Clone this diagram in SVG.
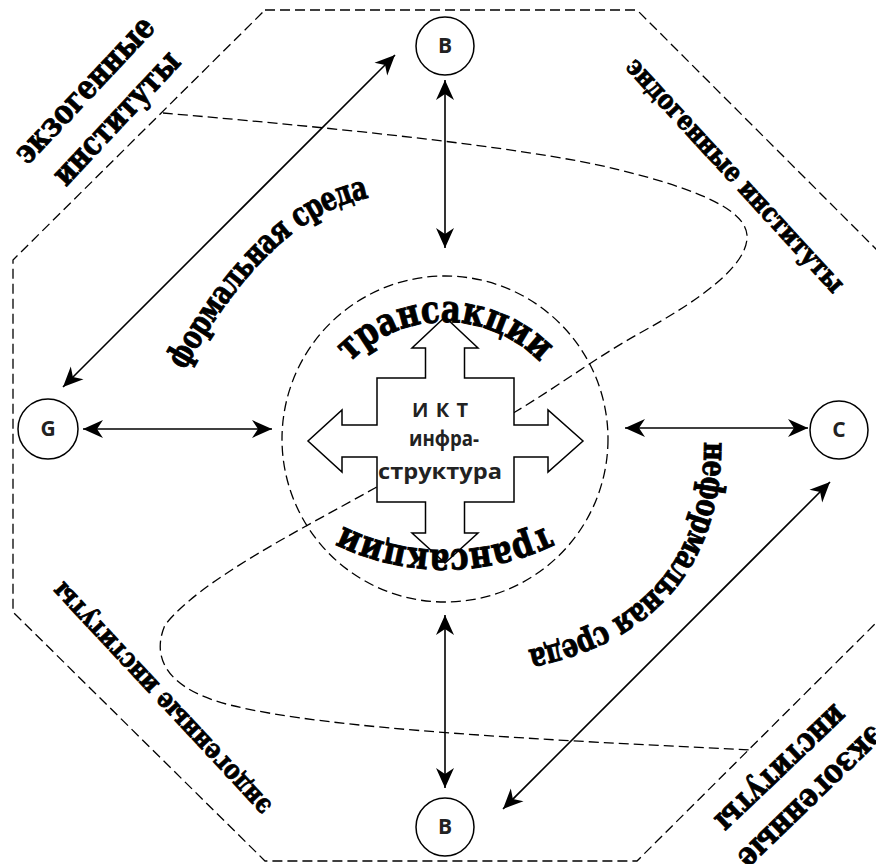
<svg xmlns="http://www.w3.org/2000/svg" width="876" height="864" viewBox="0 0 876 864">
<defs>
<style>
.dash{fill:none;stroke:#000;stroke-width:1.3;stroke-dasharray:10 5}
.conn{fill:none;stroke:#000;stroke-width:1.6}
.node{fill:#fff;stroke:#000;stroke-width:1.5}
.lbl{font-family:"Open Sans","DejaVu Sans",sans-serif;font-weight:bold;font-size:21px;text-anchor:middle;fill:#222}
.ser{font-family:"DejaVu Serif Condensed","DejaVu Serif",serif;font-weight:bold;fill:#000;stroke:#000;stroke-width:0.9}
.mid{text-anchor:middle;dominant-baseline:middle}
.ict{font-family:"Open Sans","DejaVu Sans",sans-serif;font-weight:bold;text-anchor:middle;fill:#222}
</style>
<marker id="ah" viewBox="0 0 20 20" refX="20" refY="10" markerWidth="20" markerHeight="20" markerUnits="userSpaceOnUse" orient="auto-start-reverse">
<path d="M0,1 L20,10 L0,19 L6,10 z" fill="#000"/>
</marker>
<path id="pTop" d="M313,454 A132,132 0 0 1 577,454"/>
<path id="pBot" d="M677,318 A232,232 0 0 1 213,318"/>
<path id="pForm" d="M177,366 Q264,208 367,189"/>
<path id="pNeform" d="M713,442 C714,560 650,640 518,661"/>
</defs>
<rect width="876" height="864" fill="#fff"/>

<g id="background">
<polygon class="dash" points="265,10 637,10 887,260 887,612 637,861 265,861 13,612 13,260"/>
<path class="dash" d="M163,113 C300,125 520,145 620,170 C700,190 745,210 747,235 C749,265 700,300 640,333 C600,355 560,385 515,412 L375,488 C300,530 200,580 165,625 C150,660 170,690 230,705 C330,730 550,740 750,750"/>
<circle class="dash" cx="445" cy="439" r="163"/>
</g>

<g id="ict">
<polygon fill="#fff" stroke="#000" stroke-width="1.5" points="445,317 478,348 464.5,348 464.5,378 514,378 514,425 548,425 548,410 583,441 548,472 548,457 514,457 514,502 464.5,502 464.5,533 478,533 445,563 412,533 425.5,533 425.5,502 377,502 377,457 342,457 342,472 308,441 342,410 342,425 377,425 377,378 425.5,378 425.5,348 412,348"/>
<text class="ict" x="440" y="417" font-size="20" textLength="56" lengthAdjust="spacing">И К Т</text>
<text class="ict" x="444" y="446" font-size="21" textLength="70" lengthAdjust="spacingAndGlyphs">инфра-</text>
<text class="ict" x="440" y="479" font-size="21" textLength="124" lengthAdjust="spacingAndGlyphs">структура</text>
</g>

<g id="texts">
<text class="ser" font-size="38"><textPath href="#pTop" startOffset="50%" text-anchor="middle" textLength="212" lengthAdjust="spacingAndGlyphs">трансакции</textPath></text>
<text class="ser" font-size="38"><textPath href="#pBot" startOffset="50%" text-anchor="middle" textLength="212" lengthAdjust="spacingAndGlyphs">трансакции</textPath></text>
<text class="ser" font-size="33" dominant-baseline="middle"><textPath href="#pForm" textLength="268" lengthAdjust="spacingAndGlyphs">формальная среда</textPath></text>
<text class="ser" font-size="33" dominant-baseline="middle"><textPath href="#pNeform" textLength="313" lengthAdjust="spacingAndGlyphs">неформальная среда</textPath></text>
<text class="ser mid" font-size="33" transform="translate(85.5,91) rotate(-46.7)" textLength="188" lengthAdjust="spacingAndGlyphs">экзогенные</text>
<text class="ser mid" font-size="33" transform="translate(117.5,119) rotate(-46.9)" textLength="170" lengthAdjust="spacingAndGlyphs">институты</text>
<text class="ser mid" font-size="27" transform="translate(734.5,176) rotate(47.4)" textLength="308" lengthAdjust="spacingAndGlyphs">эндогенные институты</text>
<text class="ser mid" font-size="27" transform="translate(162.5,698) rotate(227)" textLength="307" lengthAdjust="spacingAndGlyphs">эндогенные институты</text>
<text class="ser mid" font-size="33" transform="translate(780,767.5) rotate(136.4)" textLength="168" lengthAdjust="spacingAndGlyphs">институты</text>
<text class="ser mid" font-size="33" transform="translate(810.5,796.5) rotate(136)" textLength="190" lengthAdjust="spacingAndGlyphs">экзогенные</text>
</g>

<g id="connectors">
<line class="conn" x1="445" y1="80" x2="445" y2="248" marker-start="url(#ah)" marker-end="url(#ah)"/>
<line class="conn" x1="445" y1="615" x2="445" y2="788" marker-start="url(#ah)" marker-end="url(#ah)"/>
<line class="conn" x1="83" y1="429" x2="272" y2="429" marker-start="url(#ah)" marker-end="url(#ah)"/>
<line class="conn" x1="625" y1="428" x2="808" y2="428" marker-start="url(#ah)" marker-end="url(#ah)"/>
<line class="conn" x1="63" y1="387" x2="395" y2="55" marker-start="url(#ah)" marker-end="url(#ah)"/>
<line class="conn" x1="830" y1="482" x2="503" y2="809" marker-start="url(#ah)" marker-end="url(#ah)"/>
</g>

<g id="node-B-top"><circle class="node" cx="445" cy="46" r="29"/><text class="lbl" x="445" y="53">B</text></g>
<g id="node-B-bottom"><circle class="node" cx="445" cy="827" r="29"/><text class="lbl" x="445" y="834">B</text></g>
<g id="node-G"><circle class="node" cx="48" cy="429" r="30"/><text class="lbl" x="48" y="436">G</text></g>
<g id="node-C"><circle class="node" cx="839" cy="430" r="29"/><text class="lbl" x="839" y="437">C</text></g>
</svg>
